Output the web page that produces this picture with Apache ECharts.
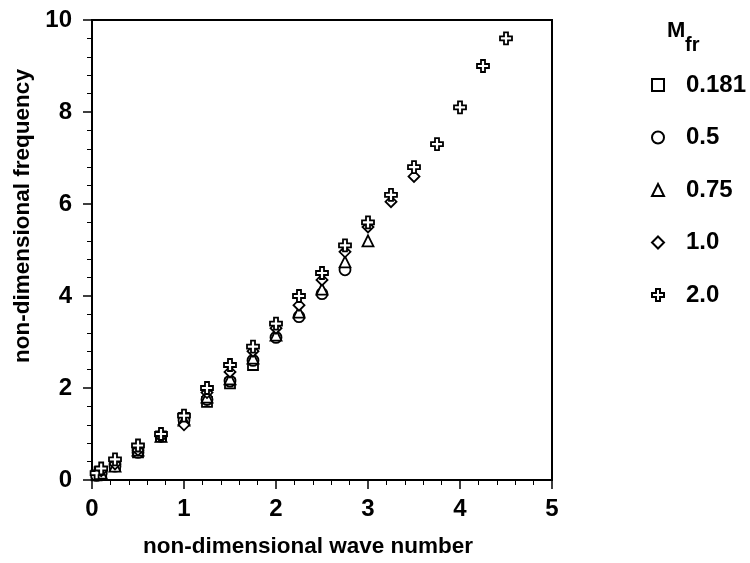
<!DOCTYPE html>
<html>
<head>
<meta charset="utf-8">
<script src="https://cdn.jsdelivr.net/npm/echarts@6/dist/echarts.min.js"></script>
<style>
  html, body { margin: 0; padding: 0; background: #fff; }
  #chart { width: 750px; height: 563px; }
</style>
</head>
<body>
<div id="chart"></div>
<script>
// Dispersion data: non-dimensional wave number vs. non-dimensional frequency
var seriesNames = ['0.181', '0.5', '0.75', '1.0', '2.0'];

var waveM0181 = [0.05, 0.1, 0.25, 0.5, 0.75, 1.0, 1.25, 1.5, 1.75];
var freqM0181 = [0.1, 0.15, 0.3, 0.6, 0.95, 1.35, 1.7, 2.1, 2.5];

var waveM05 = [0.05, 0.1, 0.25, 0.5, 0.75, 1.0, 1.25, 1.5, 1.75, 2.0, 2.25, 2.5, 2.75];
var freqM05 = [0.1, 0.15, 0.3, 0.6, 0.95, 1.3, 1.75, 2.15, 2.6, 3.1, 3.55, 4.05, 4.57];

var waveM075 = [0.1, 0.25, 0.5, 0.75, 1.0, 1.25, 1.5, 1.75, 2.0, 2.25, 2.5, 2.75, 3.0];
var freqM075 = [0.15, 0.3, 0.65, 0.95, 1.3, 1.8, 2.2, 2.65, 3.15, 3.65, 4.15, 4.74, 5.2];

var waveM10 = [0.1, 0.25, 0.5, 0.75, 1.0, 1.25, 1.5, 1.75, 2.0, 2.25, 2.5, 2.75, 3.0, 3.25, 3.5];
var freqM10 = [0.2, 0.35, 0.65, 0.95, 1.2, 1.9, 2.35, 2.8, 3.3, 3.8, 4.35, 4.96, 5.5, 6.05, 6.6];

var waveM20 = [0.05, 0.1, 0.25, 0.5, 0.75, 1.0, 1.25, 1.5, 1.75, 2.0, 2.25, 2.5, 2.75, 3.0, 3.25, 3.5, 3.75, 4.0, 4.25, 4.5];
var freqM20 = [0.15, 0.25, 0.45, 0.75, 1.0, 1.4, 2.0, 2.5, 2.9, 3.4, 4.0, 4.5, 5.1, 5.6, 6.2, 6.8, 7.3, 8.1, 9.0, 9.6];

var xTicks = [0, 1, 2, 3, 4, 5];
var yTicks = [0, 2, 4, 6, 8, 10];

var FONT = "'Liberation Sans', Arial, Helvetica, sans-serif";
var PLUS = 'path://M4,0H8V4H12V8H8V12H4V8H0V4H4Z';

function pairs(xs, ys) {
  return xs.map(function (x, i) { return [x, ys[i]]; });
}

var markerStyle = { color: '#fff', borderColor: '#000', borderWidth: 1.8, opacity: 1 };

var seriesDefs = [
  { name: seriesNames[0], symbol: 'rect', size: 10, data: pairs(waveM0181, freqM0181) },
  { name: seriesNames[1], symbol: 'circle', size: 11, data: pairs(waveM05, freqM05) },
  { name: seriesNames[2], symbol: 'triangle', size: 11, data: pairs(waveM075, freqM075) },
  { name: seriesNames[3], symbol: 'diamond', size: 11, data: pairs(waveM10, freqM10) },
  { name: seriesNames[4], symbol: PLUS, size: 12, data: pairs(waveM20, freqM20) }
];

var chart = echarts.init(document.getElementById('chart'), null, { renderer: 'canvas' });

var axisCommon = {
  axisLine: { show: true, onZero: false, lineStyle: { color: '#000', width: 2 } },
  axisTick: { show: true, inside: false, length: 9, lineStyle: { color: '#000', width: 1.5 } },
  minorTick: { show: true, splitNumber: 5, length: 5, lineStyle: { color: '#000', width: 1 } },
  splitLine: { show: false },
  axisLabel: { color: '#000', fontFamily: FONT, fontSize: 24, fontWeight: 'bold' }
};

chart.setOption({
  backgroundColor: '#fff',
  animation: false,
  grid: {
    left: 92, top: 20, width: 460, height: 460,
    show: true, borderColor: '#000', borderWidth: 2, backgroundColor: 'transparent'
  },
  xAxis: Object.assign({}, axisCommon, {
    type: 'value', min: xTicks[0], max: xTicks[xTicks.length - 1], interval: 1,
    name: 'non-dimensional wave number', nameLocation: 'middle', nameGap: 55,
    nameTextStyle: { color: '#000', fontFamily: FONT, fontSize: 22.5, fontWeight: 'bold', padding: [0, 28, 0, 0] },
    axisLabel: Object.assign({}, axisCommon.axisLabel, { margin: 17 })
  }),
  yAxis: Object.assign({}, axisCommon, {
    type: 'value', min: yTicks[0], max: yTicks[yTicks.length - 1], interval: 2,
    name: 'non-dimensional frequency', nameLocation: 'middle', nameGap: 46,
    nameTextStyle: { color: '#000', fontFamily: FONT, fontSize: 22.5, fontWeight: 'bold', padding: [0, 0, 0, 68] },
    axisLabel: Object.assign({}, axisCommon.axisLabel, { margin: 20 })
  }),
  legend: {
    orient: 'vertical', left: 646, top: 68,
    itemWidth: 12, itemHeight: 12, itemGap: 28.5,
    data: seriesNames,
    textStyle: { color: '#000', fontFamily: FONT, fontSize: 24, fontWeight: 'bold', padding: [0, 0, 0, 17] }
  },
  graphic: [
    { type: 'text', left: 667, top: 20, style: { text: 'M', fill: '#000', font: 'bold 22px ' + FONT } },
    { type: 'text', left: 685, top: 35, style: { text: 'fr', fill: '#000', font: 'bold 20px ' + FONT } }
  ],
  series: seriesDefs.map(function (d) {
    return {
      type: 'scatter', name: d.name, symbol: d.symbol, symbolSize: d.size,
      data: d.data, itemStyle: markerStyle, emphasis: { disabled: true }
    };
  })
});
</script>
</body>
</html>
